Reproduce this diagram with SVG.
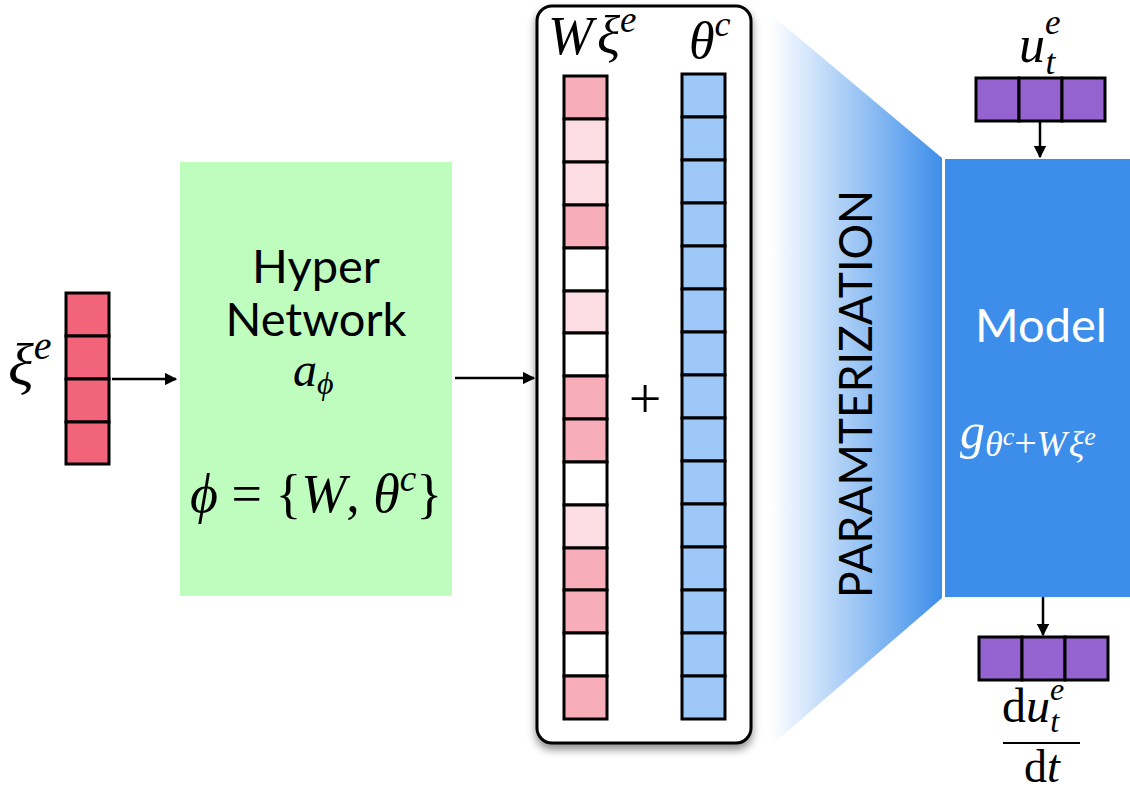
<svg xmlns="http://www.w3.org/2000/svg" width="1130" height="794" viewBox="0 0 1130 794">
  <defs>
    <style>
      .cell { stroke: #000; stroke-width: 3; }
      .xi { fill: #F26479; }
      .pk { fill: #F7AEB9; }
      .lp { fill: #FBDDE3; }
      .wh { fill: #FFFFFF; }
      .bl { fill: #9DC8F7; }
      .pu { fill: #9563D0; }
      .math { font-family: "Liberation Serif", "DejaVu Serif", serif; font-style: italic; fill: #000; }
      .rm { font-family: "Liberation Serif", "DejaVu Serif", serif; fill: #000; }
      .sans { font-family: Lato, "Open Sans", "Liberation Sans", sans-serif; }
      .conn { stroke: #000; stroke-width: 2.5; fill: none; }
    </style>
    <marker id="arrow" viewBox="0 0 10 10" refX="9" refY="5" markerWidth="5" markerHeight="5" orient="auto" markerUnits="strokeWidth">
      <path d="M0,0 L10,5 L0,10 Z" fill="#000"/>
    </marker>
    <linearGradient id="fan" x1="770" y1="0" x2="942" y2="0" gradientUnits="userSpaceOnUse">
      <stop offset="0" stop-color="#FFFFFF"/>
      <stop offset="1" stop-color="#3D8EEA"/>
    </linearGradient>
    <filter id="shadow" x="-10%" y="-5%" width="120%" height="115%">
      <feDropShadow dx="0" dy="5" stdDeviation="4" flood-color="#000" flood-opacity="0.45"/>
    </filter>
  </defs>

  <!-- parameterization fan -->
  <g id="parameterization">
    <polygon points="768,12 942,158 942,598 775,742 768,742" fill="url(#fan)"/>
    <text class="sans" font-size="46" fill="#000" transform="translate(872,394) rotate(-90)" text-anchor="middle" textLength="408" lengthAdjust="spacingAndGlyphs">PARAMTERIZATION</text>
  </g>

  <!-- environment code vector -->
  <g id="xi-vector">
    <rect class="cell xi" x="66" y="293" width="43" height="43"/>
    <rect class="cell xi" x="66" y="336" width="43" height="43"/>
    <rect class="cell xi" x="66" y="379" width="43" height="43"/>
    <rect class="cell xi" x="66" y="422" width="43" height="42"/>
    <text class="math" x="8" y="385" font-size="60">ξ<tspan font-size="40" dy="-26">e</tspan></text>
  </g>

  <!-- hypernetwork -->
  <g id="hypernetwork">
    <rect x="180" y="162" width="272" height="434" fill="#BEFDBE"/>
    <text class="sans" x="316" y="283" font-size="47" text-anchor="middle">Hyper</text>
    <text class="sans" x="316" y="336" font-size="47" text-anchor="middle">Network</text>
    <text class="math" x="293" y="386" font-size="48">a<tspan font-size="32" dy="8">ϕ</tspan></text>
    <text class="math" x="190" y="512" font-size="54">ϕ <tspan font-style="normal">= {</tspan>W<tspan font-style="normal">, </tspan>θ<tspan font-size="37" dy="-21">c</tspan><tspan font-style="normal" dy="21">}</tspan></text>
  </g>

  <!-- parameter panel -->
  <g id="parameters">
    <rect x="537" y="6" width="214" height="737" rx="15" fill="#FFFFFF" stroke="#000" stroke-width="3" filter="url(#shadow)"/>
    <text class="math" x="548" y="54" font-size="54">W<tspan dx="4">ξ</tspan><tspan font-size="37" dy="-22">e</tspan></text>
    <text class="math" x="689" y="58" font-size="52">θ<tspan font-size="36" dy="-22">c</tspan></text>
    <g id="w-xi-column">
      <rect class="cell pk" x="564" y="76" width="43" height="43"/>
      <rect class="cell lp" x="564" y="119" width="43" height="43"/>
      <rect class="cell lp" x="564" y="162" width="43" height="43"/>
      <rect class="cell pk" x="564" y="205" width="43" height="43"/>
      <rect class="cell wh" x="564" y="248" width="43" height="43"/>
      <rect class="cell lp" x="564" y="291" width="43" height="42"/>
      <rect class="cell wh" x="564" y="333" width="43" height="43"/>
      <rect class="cell pk" x="564" y="376" width="43" height="43"/>
      <rect class="cell pk" x="564" y="419" width="43" height="43"/>
      <rect class="cell wh" x="564" y="462" width="43" height="43"/>
      <rect class="cell lp" x="564" y="505" width="43" height="43"/>
      <rect class="cell pk" x="564" y="548" width="43" height="42"/>
      <rect class="cell pk" x="564" y="590" width="43" height="43"/>
      <rect class="cell wh" x="564" y="633" width="43" height="43"/>
      <rect class="cell pk" x="564" y="676" width="43" height="43"/>
    </g>
    <text class="rm" x="645" y="418" font-size="58" text-anchor="middle">+</text>
    <g id="theta-column">
      <rect class="cell bl" x="682" y="74" width="43" height="43"/>
      <rect class="cell bl" x="682" y="117" width="43" height="43"/>
      <rect class="cell bl" x="682" y="160" width="43" height="43"/>
      <rect class="cell bl" x="682" y="203" width="43" height="43"/>
      <rect class="cell bl" x="682" y="246" width="43" height="43"/>
      <rect class="cell bl" x="682" y="289" width="43" height="43"/>
      <rect class="cell bl" x="682" y="332" width="43" height="43"/>
      <rect class="cell bl" x="682" y="375" width="43" height="43"/>
      <rect class="cell bl" x="682" y="418" width="43" height="43"/>
      <rect class="cell bl" x="682" y="461" width="43" height="43"/>
      <rect class="cell bl" x="682" y="504" width="43" height="43"/>
      <rect class="cell bl" x="682" y="547" width="43" height="43"/>
      <rect class="cell bl" x="682" y="590" width="43" height="43"/>
      <rect class="cell bl" x="682" y="633" width="43" height="43"/>
      <rect class="cell bl" x="682" y="676" width="43" height="43"/>
    </g>
  </g>

  <!-- model -->
  <g id="model">
    <rect x="945" y="159" width="185" height="438" fill="#3D8EEB"/>
    <text class="sans" x="1041" y="342" font-size="47" fill="#FFFFFF" text-anchor="middle">Model</text>
    <text class="math" x="960" y="448" font-size="50" style="fill:#FFFFFF">g<tspan font-size="36" dy="8">θ</tspan><tspan font-size="26" dy="-11">c</tspan><tspan font-size="40" font-style="normal" dy="11">+</tspan><tspan font-size="36">W</tspan><tspan font-size="36" dx="2">ξ</tspan><tspan font-size="26" dy="-11">e</tspan></text>
  </g>

  <!-- state input -->
  <g id="state">
    <text class="math" x="1019" y="62" font-size="52">u<tspan font-size="35" dy="-28">e</tspan><tspan font-size="35" dx="-15" dy="40">t</tspan></text>
    <rect class="cell pu" x="976" y="78" width="43" height="43"/>
    <rect class="cell pu" x="1019" y="78" width="43" height="43"/>
    <rect class="cell pu" x="1062" y="78" width="43" height="43"/>
  </g>

  <!-- derivative output -->
  <g id="derivative">
    <rect class="cell pu" x="979" y="637" width="43" height="43"/>
    <rect class="cell pu" x="1022" y="637" width="43" height="43"/>
    <rect class="cell pu" x="1065" y="637" width="43" height="43"/>
    <text class="rm" x="1002" y="722" font-size="48">d<tspan font-style="italic">u</tspan><tspan font-style="italic" font-size="32" dy="-22">e</tspan><tspan font-style="italic" font-size="32" dx="-14" dy="32">t</tspan></text>
    <line x1="1003" y1="743" x2="1080" y2="743" stroke="#000" stroke-width="2"/>
    <text class="rm" x="1042" y="782" font-size="46" text-anchor="middle">d<tspan font-style="italic">t</tspan></text>
  </g>

  <!-- connectors -->
  <g id="connectors">
    <line class="conn" x1="112" y1="379" x2="176" y2="379" marker-end="url(#arrow)"/>
    <line class="conn" x1="455" y1="378" x2="534" y2="378" marker-end="url(#arrow)"/>
    <line class="conn" x1="1040" y1="122" x2="1040" y2="157" marker-end="url(#arrow)"/>
    <line class="conn" x1="1043" y1="597" x2="1043" y2="635" marker-end="url(#arrow)"/>
  </g>
</svg>
